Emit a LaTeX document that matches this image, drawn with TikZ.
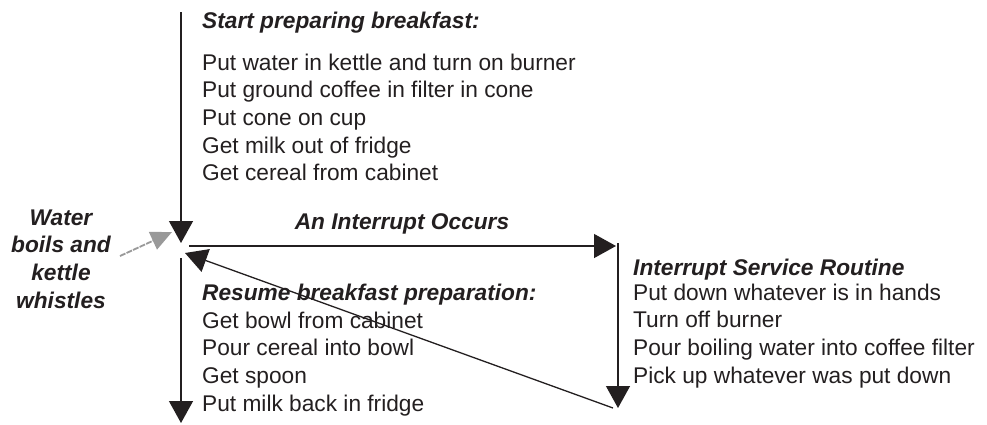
\documentclass[tikz,border=0pt]{standalone}
\usepackage{fontspec}
\setmainfont{Liberation Sans}
\usetikzlibrary{arrows.meta}
\definecolor{ink}{HTML}{231F20}
\tikzset{
  flow/.style={line width=1.3pt, ink, -{Triangle[length=22pt,width=24pt]}},
  hint/.style={line width=1.8pt, gray!80, dash pattern=on 6pt off 1.2pt, -{Triangle[length=21pt,width=19pt]}},
  txt/.style={inner sep=0pt, font=\fontsize{22.7}{27.7}\selectfont, anchor=base west, text=ink},
  ttl/.style={txt, font=\fontsize{22.7}{27.7}\selectfont\bfseries\itshape}
}
\begin{document}
\begin{tikzpicture}[x=1pt,y=-1pt]
\useasboundingbox (0,0) rectangle (987,424);
% coordinates
\coordinate (topS) at (181,12);
\coordinate (topE) at (181,243);
\coordinate (hS) at (189,246);
\coordinate (hE) at (616,246);
\coordinate (rS) at (618,243);
\coordinate (rE) at (618,408);
\coordinate (dS) at (613,408);
\coordinate (dE) at (185,253);
\coordinate (bS) at (181,258);
\coordinate (bE) at (181,423);
\coordinate (gS) at (120,256);
\coordinate (gE) at (172,232);
% top block
\node[ttl] (t1) at (202,28) {Start preparing breakfast:};
\foreach \txt [count=\i] in {Put water in kettle and turn on burner,Put ground coffee in filter in cone,Put cone on cup,Get milk out of fridge,Get cereal from cabinet}
  \node[txt] (a\i) at (202,{70+27.7*(\i-1)}) {\txt};
% interrupt label
\node[ttl, anchor=base] (io) at (402,229) {An Interrupt Occurs};
% ISR block
\node[ttl] (t2) at (633,275) {Interrupt Service Routine};
\foreach \txt [count=\i] in {Put down whatever is in hands,Turn off burner,Pour boiling water into coffee filter,Pick up whatever was put down}
  \node[txt] (b\i) at (633,{300+27.7*(\i-1)}) {\txt};
% resume block
\node[ttl] (t3) at (202,300) {Resume breakfast preparation:};
\foreach \txt [count=\i] in {Get bowl from cabinet,Pour cereal into bowl,Get spoon,Put milk back in fridge}
  \node[txt] (c\i) at (202,{328+27.7*(\i-1)}) {\txt};
% side label
\foreach \txt [count=\i] in {Water,boils and,kettle,whistles}
  \node[ttl, anchor=base] (w\i) at (61,{225+27.7*(\i-1)}) {\txt};
% connectors
\draw[flow] (topS) -- (topE);
\draw[flow] (hS) -- (hE);
\draw[flow] (rS) -- (rE);
\draw[flow] (dS) -- (dE);
\draw[flow] (bS) -- (bE);
\draw[hint] (gS) -- (gE);
\end{tikzpicture}
\end{document}
